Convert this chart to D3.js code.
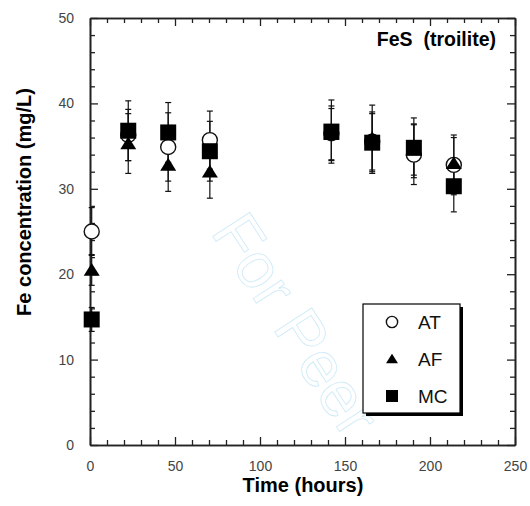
<!DOCTYPE html>
<html>
<head>
<meta charset="utf-8">
<script src="https://cdn.jsdelivr.net/npm/d3@7"></script>
<style>
body { margin: 0; background: #fff; }
svg { font-family: "Liberation Sans", Arial, sans-serif; }
</style>
</head>
<body>
<div id="chart"></div>
<script>
// data
var hours = [1, 22.5, 46, 70.5, 142, 166, 190.5, 214];
var atVals = [25.0, 36.3, 34.9, 35.7, 36.5, 35.5, 34.0, 32.8];
var atErr  = [2.8, 3.0, 4.0, 3.4, 3.2, 3.3, 3.5, 3.5];
var afVals = [20.5, 35.3, 32.8, 32.0, 36.4, 35.9, 34.6, 33.0];
var afErr  = [1.8, 3.5, 3.1, 3.1, 3.0, 3.9, 3.0, 3.0];
var mcVals = [14.7, 36.8, 36.6, 34.4, 36.7, 35.4, 34.8, 30.3];
var mcErr  = [1.4, 3.5, 3.5, 3.5, 3.7, 3.6, 3.5, 3.0];
var seriesNames = ["AT", "AF", "MC"];
var xTicks = [0, 50, 100, 150, 200, 250];
var yTicks = [0, 10, 20, 30, 40, 50];

var width = 530, height = 506;
var svg = d3.select("#chart").append("svg")
    .attr("width", width)
    .attr("height", height);

var x = d3.scaleLinear().domain([0, 250]).range([90, 515]);
var y = d3.scaleLinear().domain([0, 50]).range([445, 18]);

// watermark
svg.append("text")
    .attr("transform", "translate(210,232) rotate(57)")
    .attr("font-size", 64)
    .attr("fill", "none")
    .attr("stroke", "#cdeaf8")
    .attr("stroke-width", 0.8)
    .text("For Peer");

// axes with inward ticks, minor ticks without labels
var minorX = d3.range(0, 251, 10).filter(function(d) { return d % 50 != 0; });
var minorY = d3.range(0, 51, 2).filter(function(d) { return d % 10 != 0; });

function axisStyle(g) {
    g.select(".domain").attr("stroke", "#222").attr("stroke-width", 1.6);
    g.selectAll(".tick line").attr("stroke", "#222").attr("stroke-width", 1.3);
    g.selectAll(".tick text").attr("fill", "#444").attr("font-size", 14);
}

svg.append("g").attr("transform", "translate(0,445)")
    .call(d3.axisBottom(x).tickValues(xTicks).tickSize(-8).tickPadding(16).tickSizeOuter(0))
    .call(axisStyle);
svg.append("g").attr("transform", "translate(0,445)")
    .call(d3.axisBottom(x).tickValues(minorX).tickSize(-5).tickFormat("").tickSizeOuter(0))
    .call(axisStyle);
svg.append("g").attr("transform", "translate(0,18)")
    .call(d3.axisTop(x).tickValues(xTicks).tickSize(-8).tickFormat("").tickSizeOuter(0))
    .call(axisStyle);
svg.append("g").attr("transform", "translate(0,18)")
    .call(d3.axisTop(x).tickValues(minorX).tickSize(-5).tickFormat("").tickSizeOuter(0))
    .call(axisStyle);

svg.append("g").attr("transform", "translate(90,0)")
    .call(d3.axisLeft(y).tickValues(yTicks).tickSize(-8).tickPadding(16).tickSizeOuter(0))
    .call(axisStyle);
svg.append("g").attr("transform", "translate(90,0)")
    .call(d3.axisLeft(y).tickValues(minorY).tickSize(-5).tickFormat("").tickSizeOuter(0))
    .call(axisStyle);
svg.append("g").attr("transform", "translate(515,0)")
    .call(d3.axisRight(y).tickValues(yTicks).tickSize(-8).tickFormat("").tickSizeOuter(0))
    .call(axisStyle);
svg.append("g").attr("transform", "translate(515,0)")
    .call(d3.axisRight(y).tickValues(minorY).tickSize(-5).tickFormat("").tickSizeOuter(0))
    .call(axisStyle);

// axis titles
svg.append("text")
    .attr("x", 303).attr("y", 492)
    .attr("text-anchor", "middle")
    .attr("font-size", 20).attr("font-weight", "bold")
    .text("Time (hours)");
svg.append("text")
    .attr("transform", "translate(31,202) rotate(-90)")
    .attr("text-anchor", "middle")
    .attr("font-size", 20).attr("font-weight", "bold")
    .text("Fe concentration (mg/L)");

svg.append("text")
    .attr("x", 496).attr("y", 46)
    .attr("text-anchor", "end")
    .attr("font-size", 19.5).attr("font-weight", "bold")
    .attr("xml:space", "preserve")
    .text("FeS  (troilite)");

var series = [
    {name: "AT", vals: atVals, err: atErr},
    {name: "AF", vals: afVals, err: afErr},
    {name: "MC", vals: mcVals, err: mcErr}
];

function makeRows(s) {
    return hours.map(function(h, i) { return {t: h, v: s.vals[i], e: s.err[i]}; });
}

// error bars first
series.forEach(function(s) {
    var rows = makeRows(s);
    var g = svg.append("g").attr("stroke", "#111").attr("stroke-width", 1.2);
    g.selectAll(".eb").data(rows).enter().append("line")
        .attr("x1", function(d) { return x(d.t); })
        .attr("x2", function(d) { return x(d.t); })
        .attr("y1", function(d) { return y(d.v - d.e); })
        .attr("y2", function(d) { return y(d.v + d.e); });
    g.selectAll(".capt").data(rows).enter().append("line")
        .attr("x1", function(d) { return x(d.t) - 3; })
        .attr("x2", function(d) { return x(d.t) + 3; })
        .attr("y1", function(d) { return y(d.v + d.e); })
        .attr("y2", function(d) { return y(d.v + d.e); });
    g.selectAll(".capb").data(rows).enter().append("line")
        .attr("x1", function(d) { return x(d.t) - 3; })
        .attr("x2", function(d) { return x(d.t) + 3; })
        .attr("y1", function(d) { return y(d.v - d.e); })
        .attr("y2", function(d) { return y(d.v - d.e); });
});

function marker(sel, name, size) {
    if (name == "AT") {
        sel.append("circle").attr("r", size * 0.47)
            .attr("fill", "#fff").attr("stroke", "#111").attr("stroke-width", 1.4);
    } else if (name == "AF") {
        var h = size * 0.8, w = size;
        sel.append("path")
            .attr("d", "M0," + (-h * 0.55) + "L" + (w / 2) + "," + (h * 0.45) + "L" + (-w / 2) + "," + (h * 0.45) + "Z")
            .attr("fill", "#000");
    } else {
        sel.append("rect").attr("x", -size / 2).attr("y", -size / 2)
            .attr("width", size).attr("height", size).attr("fill", "#000");
    }
}

series.forEach(function(s) {
    var rows = makeRows(s);
    svg.append("g").selectAll("g").data(rows).enter().append("g")
        .attr("transform", function(d) { return "translate(" + x(d.t) + "," + y(d.v) + ")"; })
        .each(function() { marker(d3.select(this), s.name, 16); });
});

// legend box with drop shadow
var leg = svg.append("g").attr("transform", "translate(363,304)");
leg.append("rect").attr("x", 3).attr("y", 3).attr("width", 97).attr("height", 109).attr("fill", "#000");
leg.append("rect").attr("x", 0).attr("y", 0).attr("width", 97).attr("height", 109)
    .attr("fill", "#fff").attr("stroke", "#000").attr("stroke-width", 1.2);
seriesNames.forEach(function(n, i) {
    var row = leg.append("g").attr("transform", "translate(29," + (18 + i * 37) + ")");
    marker(row, n, 12);
    row.append("text").attr("x", 26).attr("y", 7)
        .attr("font-size", 19).attr("fill", "#111")
        .text(n);
});
</script>
</body>
</html>
